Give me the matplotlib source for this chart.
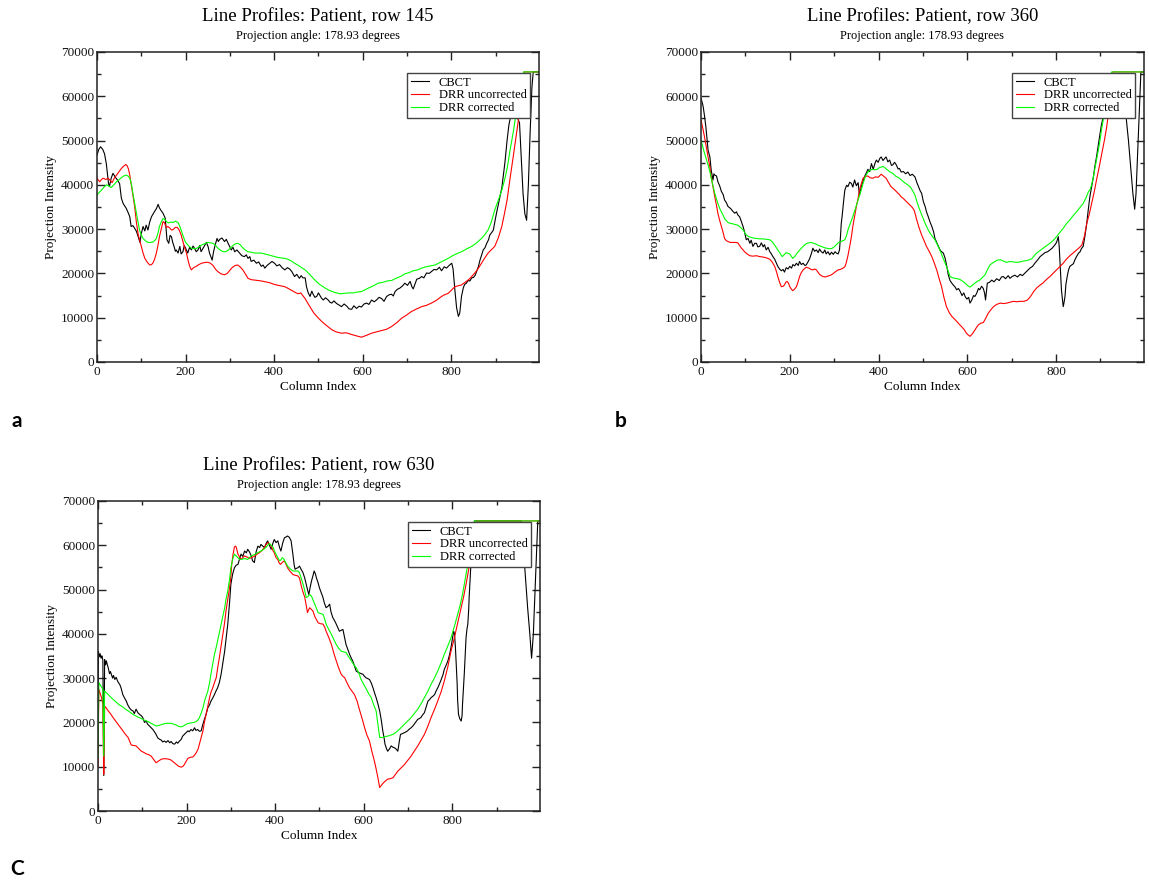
import numpy as np
import matplotlib
matplotlib.use('Agg')
from matplotlib import pyplot as plt
from matplotlib.ticker import MultipleLocator

plt.rcParams['font.family'] = ['Liberation Serif', 'DejaVu Serif']

# intensities are stored in thousands (x1000 when drawn)
titles = ['Line Profiles: Patient, row 145',
          'Line Profiles: Patient, row 360',
          'Line Profiles: Patient, row 630']
subtitle = 'Projection angle: 178.93 degrees'
labels = ['CBCT', 'DRR uncorrected', 'DRR corrected']
colors = ['black', '#ff0000', '#00ff00']
panel_tags = ['a', 'b', 'C']

# ---- row 145 ----
a_cbct_col = [0, 4, 8, 13, 17, 21, 26, 28, 32, 36, 41, 46, 51, 55, 59, 66, 70, 74, 77, 81, 85, 89, 93, 97, 100,
              104, 108, 111, 115, 119, 123, 127, 130, 134, 138, 141, 144, 149, 154, 156, 158, 162, 165, 168, 171,
              174, 177, 179, 183, 187, 190, 194, 197, 200, 205, 209, 213, 217, 220, 224, 228, 232, 235, 239, 242,
              247, 251, 254, 257, 260, 263, 266, 271, 274, 277, 282, 288, 292, 296, 300, 303, 307, 311, 316, 322,
              327, 333, 337, 341, 345, 348, 354, 360, 365, 371, 375, 379, 384, 390, 395, 401, 406, 412, 418, 424,
              430, 435, 440, 446, 451, 457, 461, 465, 470, 473, 477, 481, 485, 488, 492, 496, 500, 503, 507, 511,
              516, 522, 526, 530, 535, 541, 546, 552, 558, 564, 569, 575, 580, 586, 592, 597, 603, 609, 614, 620,
              626, 631, 637, 643, 648, 654, 660, 665, 669, 673, 678, 684, 690, 695, 701, 707, 711, 714, 718, 722,
              728, 733, 738, 744, 750, 755, 761, 767, 773, 778, 784, 789, 795, 801, 804, 808, 812, 816, 819, 823,
              827, 830, 834, 838, 842, 846, 850, 854, 857, 861, 865, 868, 872, 876, 880, 884, 887, 891, 895, 898,
              902, 906, 910, 914, 917, 921, 926, 930, 935, 940, 945, 950, 954, 958, 962, 966, 970, 974, 978, 982,
              985, 998]
a_cbct_val = [46.7, 48.0, 48.6, 48.0, 47.0, 44.8, 40.3, 39.6, 41.5, 42.6, 41.8, 41.1, 40.3, 37.0, 35.8, 34.7, 33.8,
              32.8, 30.6, 30.8, 30.2, 29.5, 28.3, 27.0, 29.0, 30.6, 29.6, 30.9, 29.8, 31.6, 32.8, 33.5, 34.0, 34.6,
              35.6, 34.8, 34.3, 33.6, 32.5, 30.0, 27.6, 26.8, 28.6, 28.3, 27.0, 26.1, 25.0, 25.3, 24.6, 26.1, 24.4,
              24.9, 26.3, 25.7, 24.6, 25.9, 25.3, 26.2, 25.7, 24.9, 25.3, 26.3, 24.9, 25.6, 26.1, 27.0, 26.0, 24.6,
              23.8, 23.0, 24.8, 26.1, 27.9, 27.2, 27.7, 28.0, 27.2, 27.7, 26.8, 26.0, 25.3, 25.9, 24.9, 25.3, 24.6,
              24.0, 23.8, 24.2, 23.4, 23.8, 22.7, 23.0, 22.3, 22.6, 21.6, 21.9, 21.2, 21.8, 22.3, 22.7, 22.3, 21.7,
              22.0, 21.3, 20.8, 21.3, 21.0, 20.4, 19.3, 19.8, 18.9, 19.5, 19.0, 19.0, 17.0, 15.6, 14.8, 16.0, 15.3,
              14.6, 14.8, 15.6, 15.1, 14.4, 14.0, 14.5, 14.0, 13.5, 13.3, 13.8, 13.2, 12.9, 12.5, 13.1, 12.6, 12.0,
              11.9, 12.7, 12.1, 12.6, 12.4, 13.1, 13.3, 13.0, 14.0, 13.6, 14.0, 14.6, 14.3, 13.7, 14.8, 15.2, 15.3,
              14.9, 15.9, 16.4, 16.7, 17.2, 17.8, 17.3, 18.2, 17.0, 16.5, 17.6, 18.7, 18.9, 19.3, 19.0, 20.1, 20.0,
              20.4, 20.9, 20.8, 21.4, 20.6, 21.5, 21.2, 21.8, 22.3, 21.0, 16.3, 12.2, 10.3, 11.0, 14.8, 16.7, 17.5,
              17.8, 18.4, 18.3, 19.0, 19.1, 19.6, 20.4, 21.5, 23.1, 24.0, 25.3, 25.8, 26.8, 27.6, 28.7, 29.2, 29.8,
              31.5, 33.6, 35.5, 37.3, 39.3, 41.8, 45.0, 50.1, 53.5, 56.0, 56.5, 55.5, 55.0, 54.0, 46.0, 38.0, 33.5,
              32.0, 40.0, 52.0, 62.0, 65.5, 65.5]
a_unc_col = [0, 6, 10, 14, 20, 25, 30, 34, 39, 44, 50, 55, 60, 65, 68, 71, 74, 77, 81, 85, 89, 93, 97, 100, 104,
             108, 113, 119, 123, 126, 130, 134, 138, 141, 145, 149, 152, 154, 157, 160, 165, 168, 172, 177, 181,
             185, 190, 194, 198, 202, 206, 210, 213, 218, 224, 230, 236, 245, 251, 256, 262, 268, 273, 280, 288,
             294, 299, 305, 312, 318, 324, 330, 336, 341, 348, 356, 364, 371, 380, 390, 398, 405, 414, 424, 432,
             439, 446, 454, 460, 470, 480, 490, 500, 507, 515, 530, 540, 552, 563, 575, 586, 597, 608, 620, 631,
             643, 654, 665, 677, 688, 699, 710, 722, 733, 744, 755, 766, 778, 785, 793, 800, 808, 815, 823, 830,
             838, 846, 853, 860, 868, 875, 883, 891, 898, 906, 914, 920, 926, 932, 940, 947, 952, 958, 964, 998]
a_unc_val = [41.5, 40.7, 41.2, 41.5, 41.2, 41.5, 41.0, 40.5, 41.5, 42.2, 43.0, 43.7, 44.2, 44.6, 44.3, 43.6, 42.2,
             40.3, 37.8, 35.1, 31.5, 28.8, 27.3, 26.1, 24.6, 23.4, 22.6, 21.9, 22.0, 22.3, 23.2, 24.6, 26.5, 28.3,
             30.0, 31.7, 31.5, 31.0, 30.4, 30.6, 30.2, 29.8, 29.9, 30.4, 30.4, 29.9, 28.7, 27.2, 25.8, 24.6, 22.8,
             21.4, 20.8, 21.3, 21.6, 22.0, 22.3, 22.5, 22.5, 22.3, 21.8, 20.9, 20.4, 19.9, 19.7, 20.0, 20.6, 21.3,
             21.8, 21.9, 21.4, 20.7, 19.7, 18.9, 18.6, 18.5, 18.4, 18.3, 18.1, 17.9, 17.6, 17.4, 17.2, 17.0, 16.6,
             16.2, 15.8, 15.4, 15.6, 14.3, 12.6, 11.0, 9.9, 9.2, 8.5, 7.3, 6.8, 6.5, 6.6, 6.2, 5.9, 5.6, 6.0, 6.5,
             6.8, 7.1, 7.4, 8.0, 8.9, 9.9, 10.6, 11.4, 12.0, 12.5, 12.8, 13.3, 13.9, 14.8, 15.2, 15.5, 16.2, 17.0,
             17.2, 17.4, 17.9, 18.5, 19.3, 20.1, 21.0, 22.3, 23.4, 24.6, 25.4, 26.1, 28.0, 30.6, 33.5, 36.6, 41.0,
             46.5, 51.5, 55.0, 60.0, 65.5, 65.5]
a_cor_col = [0, 5, 10, 16, 21, 26, 32, 38, 44, 50, 55, 60, 66, 70, 74, 78, 81, 85, 89, 93, 96, 100, 104, 110, 115,
             121, 126, 130, 134, 138, 141, 145, 149, 153, 157, 161, 164, 168, 172, 177, 183, 187, 190, 195, 199,
             202, 208, 213, 218, 224, 230, 236, 243, 251, 257, 262, 268, 273, 278, 284, 290, 296, 302, 308, 313,
             318, 323, 330, 336, 341, 348, 356, 364, 371, 379, 386, 394, 401, 409, 416, 424, 431, 439, 446, 455,
             462, 470, 481, 492, 503, 515, 526, 537, 549, 558, 567, 578, 588, 597, 605, 613, 624, 635, 646, 655,
             665, 675, 685, 695, 705, 714, 724, 733, 743, 753, 763, 773, 783, 793, 803, 813, 823, 834, 846, 857,
             868, 876, 883, 890, 898, 906, 914, 920, 926, 933, 940, 947, 954, 960, 963, 998]
a_cor_val = [37.7, 38.3, 38.8, 39.5, 40.0, 39.8, 39.4, 40.0, 40.7, 41.2, 41.6, 42.0, 42.2, 42.0, 41.5, 40.0, 38.1,
             35.8, 33.6, 31.5, 29.8, 28.7, 27.9, 27.3, 27.0, 27.0, 27.1, 27.4, 27.9, 29.2, 30.6, 31.6, 32.4, 32.2,
             31.7, 31.4, 31.5, 31.6, 31.5, 31.8, 31.5, 30.6, 29.8, 28.3, 27.2, 26.8, 26.1, 25.7, 25.6, 25.6, 26.0,
             26.4, 26.7, 27.0, 26.9, 26.8, 26.3, 25.7, 25.3, 24.9, 24.9, 25.2, 25.8, 26.4, 26.7, 26.8, 26.5, 25.7,
             25.2, 24.9, 24.8, 24.6, 24.6, 24.6, 24.4, 24.2, 24.0, 23.8, 23.6, 23.5, 23.4, 23.2, 22.8, 22.3, 21.8,
             21.3, 20.8, 19.7, 18.5, 17.5, 16.7, 16.1, 15.7, 15.4, 15.5, 15.6, 15.6, 15.8, 15.9, 16.3, 16.7, 17.2,
             17.8, 18.0, 18.3, 18.4, 18.9, 19.3, 19.9, 20.2, 20.6, 20.8, 21.2, 21.5, 21.7, 21.9, 22.4, 22.9, 23.4,
             24.0, 24.5, 24.9, 25.5, 26.1, 26.9, 27.9, 28.8, 29.8, 31.5, 34.3, 36.5, 38.8, 41.0, 43.7, 48.0, 52.0,
             56.5, 60.5, 64.0, 65.5, 65.5]

# ---- row 360 ----
b_cbct_col = [0, 3, 5, 8, 11, 14, 16, 20, 23, 27, 29, 31, 35, 38, 42, 46, 50, 53, 57, 61, 65, 68, 72, 76, 80, 83,
              87, 91, 95, 98, 102, 106, 110, 113, 117, 121, 125, 128, 132, 136, 140, 143, 147, 151, 155, 158, 162,
              166, 170, 173, 177, 181, 185, 188, 192, 196, 200, 204, 207, 211, 215, 219, 222, 226, 230, 234, 237,
              241, 245, 249, 252, 256, 260, 264, 267, 271, 275, 279, 282, 286, 290, 294, 298, 302, 305, 309, 312,
              314, 316, 318, 320, 322, 324, 328, 331, 335, 339, 342, 346, 350, 354, 357, 361, 365, 369, 372, 376,
              380, 384, 388, 392, 395, 399, 403, 406, 410, 414, 417, 421, 425, 429, 432, 436, 440, 444, 447, 451,
              456, 461, 466, 471, 476, 482, 486, 490, 494, 497, 501, 505, 508, 512, 516, 520, 524, 527, 531, 535,
              539, 542, 546, 550, 554, 557, 561, 565, 569, 572, 576, 580, 584, 588, 592, 595, 599, 603, 606, 610,
              614, 617, 621, 625, 628, 632, 636, 639, 641, 643, 645, 650, 655, 660, 666, 672, 677, 681, 686, 692,
              696, 701, 707, 713, 719, 724, 730, 735, 741, 747, 752, 758, 764, 769, 775, 781, 786, 791, 797, 801,
              805, 807, 809, 812, 816, 818, 820, 822, 825, 828, 831, 835, 839, 842, 846, 850, 854, 857, 861, 865,
              869, 872, 876, 880, 884, 887, 891, 895, 899, 902, 906, 912, 920, 930, 940, 950, 958, 963, 968, 973,
              977, 980, 984, 988, 991, 998]
b_cbct_val = [59.5, 58.5, 57.6, 55.5, 53.1, 50.0, 47.8, 46.3, 43.3, 41.1, 42.5, 42.2, 42.0, 40.7, 39.8, 38.5, 37.8,
              36.6, 36.0, 35.1, 34.8, 34.5, 34.0, 33.6, 33.9, 33.2, 32.8, 31.7, 30.5, 29.4, 27.6, 27.9, 26.8, 27.5,
              26.1, 26.8, 26.8, 26.0, 26.1, 26.9, 26.0, 26.5, 25.3, 25.9, 24.9, 24.5, 23.8, 23.2, 22.3, 21.6, 21.0,
              20.6, 20.9, 20.3, 21.3, 21.0, 21.6, 21.2, 22.0, 21.7, 22.3, 21.8, 22.7, 22.0, 22.3, 21.8, 21.9, 22.6,
              23.4, 24.6, 25.7, 25.0, 25.3, 24.7, 25.5, 24.9, 24.6, 25.3, 24.4, 24.9, 24.2, 24.8, 24.3, 24.9, 24.6,
              24.4, 25.3, 28.0, 31.3, 33.0, 35.1, 37.0, 38.8, 39.9, 39.6, 40.6, 40.3, 39.5, 41.1, 39.8, 40.5, 37.7,
              39.5, 40.8, 42.0, 42.6, 43.5, 43.0, 44.8, 43.5, 44.9, 45.6, 45.1, 46.0, 46.3, 45.5, 46.0, 46.3, 45.2,
              45.6, 44.4, 44.5, 45.1, 44.5, 43.6, 43.7, 42.9, 43.0, 42.5, 42.9, 42.1, 42.4, 41.8, 40.6, 39.6, 38.6,
              38.1, 36.2, 35.1, 33.9, 32.8, 31.6, 30.6, 29.4, 27.9, 27.0, 26.1, 25.2, 24.9, 24.6, 23.4, 21.5, 19.7,
              18.4, 17.8, 17.3, 17.0, 16.3, 16.6, 15.9, 15.0, 15.6, 14.8, 14.2, 14.6, 13.3, 14.0, 15.0, 14.8, 15.5,
              16.6, 16.3, 17.1, 16.6, 15.5, 14.0, 16.0, 17.8, 18.0, 18.5, 18.1, 18.8, 18.4, 19.2, 19.3, 18.8, 19.5,
              18.9, 19.3, 19.6, 19.2, 19.8, 19.5, 20.1, 20.6, 21.2, 21.6, 22.3, 23.0, 23.8, 24.2, 24.7, 24.9, 25.3,
              25.7, 26.4, 27.0, 28.3, 26.0, 22.3, 16.3, 12.5, 13.5, 14.8, 17.5, 19.3, 20.8, 21.6, 21.9, 22.2, 23.0,
              23.8, 24.5, 24.9, 25.6, 26.1, 28.5, 31.3, 34.0, 37.3, 39.5, 41.8, 44.0, 46.3, 49.0, 51.6, 53.5, 55.3,
              57.5, 59.5, 60.0, 58.5, 57.0, 55.0, 50.0, 44.0, 38.0, 34.5, 38.0, 48.0, 58.0, 65.5, 65.5]
b_unc_col = [0, 4, 8, 12, 16, 20, 23, 27, 31, 35, 38, 42, 46, 50, 53, 57, 61, 66, 72, 78, 83, 87, 91, 95, 98, 104,
             110, 117, 125, 132, 140, 148, 155, 160, 166, 170, 173, 177, 181, 185, 188, 191, 194, 197, 200, 204,
             207, 211, 215, 219, 222, 226, 230, 237, 243, 248, 252, 256, 260, 264, 267, 271, 275, 280, 286, 292,
             297, 303, 309, 314, 320, 324, 327, 331, 335, 339, 342, 346, 350, 354, 357, 361, 365, 370, 376, 381,
             387, 393, 399, 406, 412, 417, 422, 428, 434, 440, 446, 451, 456, 461, 466, 471, 476, 480, 483, 486,
             491, 497, 502, 508, 514, 520, 525, 531, 536, 542, 547, 553, 559, 565, 570, 576, 581, 587, 593, 598,
             602, 606, 610, 615, 620, 625, 631, 636, 641, 647, 653, 659, 666, 674, 681, 689, 696, 704, 711, 719,
             727, 734, 740, 745, 750, 756, 763, 771, 778, 786, 793, 801, 808, 816, 823, 831, 838, 846, 852, 858,
             864, 869, 875, 880, 886, 891, 897, 903, 909, 914, 919, 924, 928, 998]
b_unc_val = [54.6, 52.8, 50.8, 48.5, 46.3, 44.0, 41.8, 39.5, 37.3, 35.3, 33.6, 32.0, 30.6, 29.2, 27.9, 27.4, 27.2,
             27.0, 27.0, 27.0, 26.9, 26.3, 25.7, 25.3, 24.9, 24.4, 24.0, 23.9, 24.0, 23.8, 23.7, 23.5, 23.2, 22.6,
             21.6, 20.4, 19.3, 18.0, 17.0, 17.1, 17.4, 18.0, 18.2, 17.8, 17.0, 16.4, 16.1, 16.5, 17.0, 18.2, 19.3,
             20.2, 20.8, 21.4, 21.2, 20.9, 20.8, 21.0, 20.8, 20.2, 19.8, 19.5, 19.3, 19.2, 19.4, 19.6, 19.9, 20.4,
             20.8, 20.9, 21.2, 21.5, 22.3, 24.0, 26.1, 28.4, 30.6, 32.8, 35.1, 37.0, 38.8, 40.2, 41.5, 41.9, 42.0,
             41.6, 41.5, 41.8, 41.7, 42.4, 41.9, 41.5, 40.6, 39.6, 39.1, 38.5, 37.9, 37.3, 36.9, 36.4, 35.9, 35.4,
             34.9, 34.3, 33.3, 32.1, 30.4, 28.7, 27.5, 26.1, 25.0, 23.8, 22.5, 20.8, 19.0, 17.0, 14.7, 12.5, 11.2,
             10.3, 9.8, 9.2, 8.6, 8.0, 7.3, 6.5, 6.1, 5.8, 6.2, 6.9, 7.7, 8.4, 8.8, 8.9, 9.8, 11.0, 11.8, 12.5, 13.0,
             13.3, 13.2, 13.3, 13.5, 13.7, 13.6, 13.7, 13.7, 13.9, 14.5, 15.2, 16.0, 16.7, 17.3, 17.9, 18.6, 19.3,
             20.0, 20.8, 21.5, 22.3, 23.2, 24.0, 24.6, 25.3, 25.8, 26.4, 28.5, 31.3, 33.5, 35.8, 38.5, 41.1, 44.0,
             47.1, 50.2, 53.1, 57.0, 61.5, 65.5, 65.5]
b_cor_col = [0, 4, 8, 12, 16, 20, 23, 27, 31, 35, 38, 42, 46, 50, 53, 57, 61, 66, 72, 78, 83, 89, 95, 98, 102, 106,
             110, 118, 125, 133, 140, 148, 155, 161, 166, 171, 176, 180, 183, 187, 192, 196, 200, 204, 207, 211,
             215, 220, 226, 232, 237, 242, 248, 254, 260, 265, 271, 276, 282, 288, 294, 299, 305, 310, 316, 320,
             324, 328, 331, 336, 342, 348, 354, 360, 365, 369, 372, 376, 380, 386, 391, 397, 402, 406, 410, 415,
             421, 426, 432, 438, 447, 456, 463, 471, 476, 482, 487, 493, 499, 505, 510, 516, 521, 527, 532, 538,
             544, 550, 556, 561, 567, 572, 578, 584, 590, 595, 600, 606, 611, 617, 622, 628, 634, 640, 645, 651,
             656, 662, 668, 674, 681, 689, 696, 704, 711, 719, 726, 734, 740, 745, 750, 756, 764, 771, 779, 786,
             794, 801, 808, 816, 823, 831, 838, 846, 853, 861, 867, 873, 876, 880, 884, 887, 891, 895, 899, 902,
             906, 910, 914, 918, 922, 925, 998]
b_cor_val = [50.1, 48.6, 47.1, 45.8, 44.5, 43.0, 41.5, 39.8, 38.1, 36.8, 35.8, 34.7, 33.9, 33.1, 32.4, 31.9, 31.5,
             31.3, 31.2, 31.0, 30.9, 30.4, 29.8, 29.3, 28.7, 28.4, 28.2, 28.0, 27.9, 27.8, 27.8, 27.7, 27.6, 27.1,
             26.4, 25.6, 24.9, 24.2, 23.8, 24.2, 24.7, 24.5, 24.4, 23.8, 23.4, 23.8, 24.4, 25.0, 25.7, 26.3, 26.7,
             26.9, 27.0, 26.8, 26.6, 26.3, 26.1, 25.9, 25.7, 25.6, 25.6, 25.9, 26.5, 27.0, 27.2, 27.4, 27.6, 28.6,
             29.8, 31.2, 32.8, 34.7, 36.6, 38.5, 40.3, 41.5, 42.2, 42.9, 43.3, 43.5, 43.4, 43.5, 43.9, 44.0, 44.2,
             43.8, 43.3, 42.9, 42.6, 42.0, 41.5, 40.7, 40.2, 39.6, 38.8, 37.7, 36.0, 34.3, 32.8, 31.3, 30.2, 29.1,
             28.4, 27.6, 26.6, 25.3, 23.8, 22.3, 20.8, 19.3, 19.0, 18.9, 18.8, 18.6, 18.2, 17.8, 17.3, 16.9, 17.3,
             17.8, 18.2, 18.5, 19.1, 19.7, 20.8, 21.9, 22.3, 22.7, 23.0, 23.1, 22.8, 22.5, 22.7, 22.6, 22.5, 22.6,
             22.8, 22.9, 23.1, 23.3, 23.9, 24.6, 25.2, 25.7, 26.3, 26.8, 27.5, 28.3, 29.2, 30.2, 31.2, 32.1, 33.0,
             33.9, 34.8, 35.8, 37.0, 38.5, 38.8, 40.0, 41.8, 43.5, 45.6, 47.8, 50.1, 52.3, 54.6, 56.8, 59.1, 61.5,
             64.0, 65.5, 65.5]

# ---- row 630 ----
c_cbct_col = [0, 1, 3, 5, 7, 9, 11, 12, 13, 14, 15, 17, 19, 21, 23, 26, 28, 30, 33, 35, 38, 41, 44, 46, 49, 52, 56,
              60, 64, 67, 71, 75, 79, 82, 86, 90, 94, 98, 101, 105, 109, 112, 116, 120, 124, 128, 131, 135, 139,
              143, 146, 150, 154, 158, 162, 165, 169, 173, 177, 180, 184, 188, 191, 195, 199, 203, 206, 210, 214,
              218, 221, 225, 229, 233, 236, 239, 244, 248, 252, 255, 259, 263, 266, 270, 274, 278, 282, 286, 290,
              293, 297, 300, 304, 308, 312, 316, 320, 323, 327, 331, 335, 338, 342, 346, 349, 353, 357, 361, 365,
              368, 372, 376, 380, 383, 387, 391, 395, 398, 402, 406, 410, 413, 417, 421, 425, 428, 432, 436, 440,
              443, 445, 448, 451, 455, 459, 463, 467, 470, 473, 476, 479, 482, 485, 488, 491, 493, 497, 500, 504,
              508, 511, 515, 519, 523, 526, 530, 534, 538, 541, 545, 549, 553, 556, 560, 564, 568, 571, 575, 579,
              583, 586, 590, 594, 598, 601, 605, 609, 613, 617, 621, 624, 628, 632, 636, 640, 643, 646, 648, 651,
              654, 658, 662, 666, 669, 673, 677, 680, 683, 688, 692, 696, 699, 703, 707, 711, 714, 718, 722, 726,
              729, 733, 737, 741, 745, 749, 752, 756, 760, 763, 767, 771, 775, 779, 782, 786, 790, 794, 797, 800,
              803, 805, 807, 809, 811, 812, 814, 817, 820, 822, 823, 825, 827, 829, 831, 833, 835, 837, 838, 840,
              842, 844, 846, 848, 850, 955, 960, 965, 970, 975, 979, 983, 987, 991, 993, 998]
c_cbct_val = [24.0, 36.0, 35.0, 35.5, 34.5, 35.0, 34.0, 20.0, 8.0, 20.0, 34.2, 33.0, 33.9, 33.0, 32.4, 31.0, 31.5,
              30.9, 30.0, 30.6, 29.7, 30.2, 29.4, 29.0, 28.6, 27.8, 26.3, 25.5, 24.8, 24.0, 23.3, 22.8, 22.6, 22.0,
              23.0, 22.2, 21.8, 21.5, 21.1, 20.0, 20.3, 19.6, 19.2, 18.8, 18.4, 17.8, 17.3, 16.5, 16.2, 16.0, 15.6,
              15.8, 15.5, 15.9, 15.4, 15.7, 15.2, 15.1, 15.6, 15.3, 15.8, 16.2, 16.9, 17.3, 17.7, 18.1, 17.9, 18.4,
              18.1, 18.8, 18.2, 18.4, 18.0, 18.1, 19.3, 20.3, 21.8, 23.3, 24.0, 24.8, 25.5, 26.3, 27.0, 27.8, 29.0,
              30.9, 33.5, 36.1, 39.5, 42.2, 47.0, 51.2, 53.5, 54.9, 55.5, 55.7, 57.0, 58.0, 57.5, 58.7, 58.3, 59.1,
              58.5, 57.6, 56.5, 56.1, 58.5, 59.8, 59.5, 60.2, 59.8, 59.5, 60.5, 61.0, 60.0, 59.1, 60.5, 61.3, 60.6,
              61.0, 59.5, 58.7, 60.5, 61.7, 61.9, 62.1, 61.8, 61.0, 58.0, 55.5, 54.6, 54.8, 54.9, 55.3, 54.5, 53.8,
              52.5, 51.2, 50.0, 48.9, 50.5, 51.9, 53.0, 54.2, 53.5, 52.7, 51.5, 50.4, 49.3, 48.2, 47.0, 45.9, 46.2,
              46.7, 45.0, 43.7, 43.0, 42.2, 41.5, 40.6, 40.8, 41.0, 39.5, 37.6, 36.5, 35.4, 34.7, 33.9, 32.8, 31.6,
              31.4, 31.2, 31.0, 30.9, 30.5, 30.1, 29.9, 29.7, 28.9, 27.8, 26.8, 25.6, 24.2, 22.6, 20.3, 18.1, 16.5,
              15.1, 14.2, 13.5, 14.0, 14.7, 14.4, 14.3, 14.0, 13.5, 15.5, 17.3, 17.5, 17.7, 17.9, 18.1, 18.5, 18.8,
              19.2, 19.6, 20.1, 20.7, 20.9, 21.1, 21.7, 22.2, 23.5, 24.8, 25.2, 25.6, 25.9, 26.3, 27.0, 27.8, 28.7,
              29.7, 30.8, 32.0, 32.9, 33.9, 35.4, 36.9, 38.8, 40.6, 40.0, 37.0, 33.0, 28.6, 25.0, 21.8, 20.8, 20.3,
              21.5, 24.0, 27.5, 30.9, 35.0, 39.1, 41.0, 42.2, 45.5, 48.2, 52.0, 55.7, 59.0, 61.7, 64.0, 65.5, 65.5,
              60.0, 53.0, 46.0, 40.0, 34.5, 40.0, 50.0, 60.0, 65.5, 65.5]
c_unc_col = [0, 1, 2, 5, 8, 11, 12, 13, 14, 15, 19, 23, 28, 34, 40, 45, 51, 56, 62, 68, 72, 75, 80, 86, 92, 98, 104,
             109, 115, 120, 126, 131, 137, 143, 148, 154, 160, 165, 171, 177, 182, 188, 192, 195, 199, 203, 208,
             214, 218, 222, 226, 229, 233, 237, 240, 244, 248, 252, 255, 259, 263, 267, 270, 274, 278, 282, 286,
             289, 293, 297, 300, 302, 305, 308, 310, 312, 316, 320, 323, 327, 331, 335, 338, 342, 346, 350, 353,
             358, 364, 370, 376, 380, 383, 387, 391, 395, 398, 402, 406, 409, 412, 417, 421, 425, 428, 433, 440,
             446, 451, 455, 459, 462, 467, 470, 473, 476, 478, 482, 485, 490, 497, 502, 508, 512, 515, 521, 527,
             532, 538, 543, 549, 553, 557, 562, 568, 574, 579, 585, 590, 596, 602, 607, 613, 618, 624, 628, 632,
             636, 640, 643, 648, 654, 660, 666, 671, 677, 684, 692, 699, 707, 714, 722, 729, 737, 745, 752, 760,
             767, 775, 782, 790, 797, 803, 808, 814, 820, 826, 831, 837, 842, 847, 852, 855, 998]
c_unc_val = [9.8, 20.0, 27.5, 26.5, 25.6, 24.1, 15.0, 8.3, 15.0, 23.7, 23.2, 22.6, 22.0, 21.1, 20.3, 19.6, 18.8,
             18.1, 17.3, 16.6, 15.6, 14.9, 14.8, 14.7, 14.1, 13.5, 13.2, 12.9, 12.7, 12.4, 11.6, 10.9, 11.3, 11.7,
             11.8, 11.8, 11.7, 11.5, 11.0, 10.5, 10.1, 9.9, 10.1, 10.5, 11.2, 11.9, 12.1, 12.2, 12.6, 13.2, 14.0,
             15.1, 16.5, 18.1, 19.9, 21.8, 23.7, 25.6, 26.8, 27.8, 29.0, 30.1, 32.2, 34.6, 37.3, 39.9, 42.6, 45.2,
             47.8, 50.4, 53.0, 55.7, 58.0, 59.6, 59.8, 59.6, 58.0, 57.3, 56.8, 57.2, 57.6, 57.4, 57.3, 57.0, 57.2,
             57.4, 57.5, 57.9, 58.3, 58.8, 59.6, 60.2, 60.6, 60.4, 59.8, 58.8, 58.3, 57.2, 56.8, 56.0, 55.7, 56.2,
             56.5, 55.6, 54.9, 54.2, 53.4, 53.2, 53.1, 52.6, 50.8, 49.7, 48.2, 46.5, 44.8, 45.5, 45.9, 45.5, 45.2,
             43.8, 42.5, 42.3, 42.2, 41.5, 40.6, 39.2, 37.6, 35.8, 33.9, 32.4, 30.9, 30.4, 30.1, 29.0, 27.8, 27.0,
             26.3, 24.8, 23.0, 21.0, 18.8, 17.2, 15.8, 13.6, 11.3, 9.5, 7.5, 5.3, 5.8, 6.2, 6.7, 7.2, 7.3, 7.5, 8.2,
             9.0, 9.7, 10.5, 11.4, 12.4, 13.5, 14.7, 15.9, 17.3, 19.2, 21.1, 23.0, 24.8, 27.0, 29.4, 32.6, 36.1,
             38.4, 40.6, 43.2, 45.9, 48.6, 51.2, 54.5, 58.0, 61.5, 64.5, 65.5, 65.5]
c_cor_col = [0, 1, 2, 5, 8, 11, 12, 13, 14, 15, 19, 23, 28, 34, 40, 45, 51, 56, 62, 68, 74, 79, 85, 90, 96, 101, 107,
             113, 118, 124, 131, 137, 143, 149, 154, 160, 165, 171, 177, 182, 188, 193, 199, 205, 210, 216, 222,
             226, 229, 233, 237, 241, 245, 248, 252, 255, 259, 263, 267, 270, 274, 278, 282, 286, 289, 293, 297,
             300, 304, 308, 312, 316, 320, 323, 327, 331, 335, 338, 342, 346, 351, 357, 362, 368, 374, 379, 383,
             387, 391, 395, 398, 402, 406, 410, 413, 416, 419, 421, 425, 428, 434, 440, 446, 451, 455, 459, 463,
             467, 470, 474, 478, 482, 485, 491, 497, 502, 508, 512, 515, 521, 527, 532, 538, 543, 549, 555, 560,
             566, 572, 577, 583, 589, 594, 600, 606, 611, 617, 622, 628, 632, 636, 643, 648, 654, 660, 666, 672,
             677, 685, 692, 700, 707, 715, 722, 730, 737, 745, 752, 760, 767, 775, 782, 790, 797, 805, 812, 818,
             823, 829, 835, 840, 845, 850, 998]
c_cor_val = [12.0, 22.0, 29.0, 28.5, 28.0, 27.5, 20.0, 12.4, 20.0, 27.1, 26.7, 26.3, 25.8, 25.2, 24.7, 24.2, 23.8,
             23.5, 23.0, 22.6, 22.2, 21.8, 21.5, 21.2, 21.0, 20.7, 20.4, 20.2, 19.9, 19.6, 19.2, 19.3, 19.5, 19.7,
             19.8, 19.8, 19.8, 19.6, 19.4, 19.1, 19.0, 19.2, 19.6, 19.8, 19.9, 20.0, 20.2, 20.6, 21.1, 22.1, 23.3,
             25.0, 26.2, 27.1, 29.0, 30.9, 33.2, 35.4, 37.0, 38.4, 40.3, 42.2, 44.0, 45.9, 47.8, 49.7, 52.3, 54.9,
             56.8, 58.0, 57.6, 57.2, 56.8, 56.8, 56.9, 57.0, 56.9, 56.8, 57.2, 57.6, 57.8, 58.1, 58.4, 58.7, 59.1,
             59.5, 60.0, 60.4, 60.0, 59.6, 58.8, 58.0, 57.2, 56.5, 56.7, 57.2, 57.0, 56.6, 55.9, 55.3, 54.7, 54.2,
             54.2, 54.2, 53.8, 52.5, 51.2, 49.7, 48.2, 48.4, 48.9, 48.5, 47.8, 46.3, 44.8, 44.6, 44.4, 43.3, 42.2,
             41.0, 39.9, 38.8, 37.6, 36.8, 36.1, 35.9, 35.8, 34.8, 33.9, 33.1, 32.4, 31.1, 29.7, 28.6, 27.5, 26.5,
             25.6, 24.1, 22.6, 19.6, 16.6, 16.6, 16.8, 16.9, 17.1, 17.3, 17.7, 18.1, 18.9, 19.6, 20.4, 21.1, 22.1,
             23.0, 24.3, 25.6, 27.1, 28.6, 30.1, 31.6, 33.5, 35.4, 37.3, 39.1, 41.8, 44.4, 46.6, 48.9, 52.3, 55.7,
             59.0, 62.5, 65.5, 65.5]

profiles = [
    [(a_cbct_col, a_cbct_val), (a_unc_col, a_unc_val), (a_cor_col, a_cor_val)],
    [(b_cbct_col, b_cbct_val), (b_unc_col, b_unc_val), (b_cor_col, b_cor_val)],
    [(c_cbct_col, c_cbct_val), (c_unc_col, c_unc_val), (c_cor_col, c_cor_val)],
]

W, H = 1149, 882
fig = plt.figure(figsize=(W / 100, H / 100), dpi=100)

# axes boxes in pixels: left, top, right, bottom
boxes = [(97, 52, 539, 362), (701, 52, 1144, 362), (98, 501, 540, 811)]
tag_pos = [(17, 421), (621, 421), (17, 869)]


def draw_profile(ax, series, title):
    for (col, val), c, lab in zip(series, colors, labels):
        ax.plot(col, np.array(val) * 1000, color=c, lw=0.8, label=lab)
    ax.set_xlim(0, 998)
    ax.set_ylim(0, 70000)
    ax.xaxis.set_major_locator(MultipleLocator(200))
    ax.xaxis.set_minor_locator(MultipleLocator(100))
    ax.yaxis.set_major_locator(MultipleLocator(10000))
    ax.yaxis.set_minor_locator(MultipleLocator(5000))
    ax.tick_params(which='both', direction='in', top=True, right=True, width=1.0,
                   color='#222222', labelsize=9.5, labelcolor='#111111')
    ax.tick_params(which='major', length=5.8)
    ax.tick_params(which='minor', length=3.2)
    ax.tick_params(axis='y', pad=2)
    ax.tick_params(axis='x', pad=3)
    for s in ax.spines.values():
        s.set_linewidth(1.1)
        s.set_color('#222222')
    ax.set_xlabel('Column Index', fontsize=9.5, labelpad=2)
    ax.set_ylabel('Projection Intensity', fontsize=9.5, labelpad=3)
    ax.text(0.5, 1.114, title, transform=ax.transAxes, ha='center', va='center', fontsize=13.5)
    ax.text(0.5, 1.050, subtitle, transform=ax.transAxes, ha='center', va='center', fontsize=9)
    leg = ax.legend(loc='upper right', bbox_to_anchor=(0.98, 0.932), borderaxespad=0,
                    fontsize=9, frameon=True, fancybox=False, framealpha=1,
                    handlelength=1.45, handletextpad=0.75, labelspacing=0.05,
                    borderpad=0.3)
    leg.get_frame().set_edgecolor('#444444')
    leg.get_frame().set_linewidth(1.0)
    for h in leg.get_lines():
        h.set_linewidth(0.8)


for (l, t, r, b), series, title in zip(boxes, profiles, titles):
    ax = fig.add_axes([l / W, 1 - b / H, (r - l) / W, (b - t) / H])
    draw_profile(ax, series, title)

for (x, y), tag in zip(tag_pos, panel_tags):
    fig.text(x / W, 1 - y / H, tag, ha='center', va='center', fontsize=15,
             fontweight='bold', family=['Lato', 'DejaVu Sans'])

fig.savefig('out.png', dpi=100)
